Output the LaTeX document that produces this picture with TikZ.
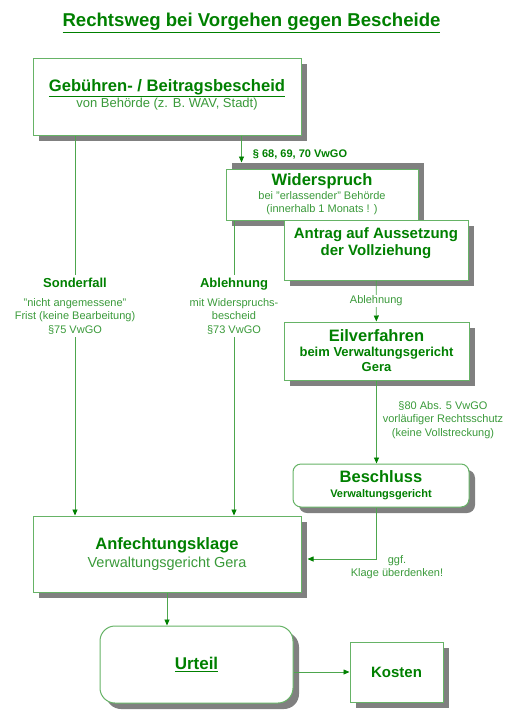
\documentclass[tikz,border=0pt]{standalone}
\usepackage{fontspec}
\setmainfont{Liberation Sans}
\usetikzlibrary{arrows.meta,shadows}
\definecolor{dkgreen}{HTML}{008000}
\definecolor{txtgreen}{HTML}{3A9A3A}
\definecolor{boxgreen}{HTML}{66B366}
\definecolor{lnkgreen}{HTML}{4DA64D}
\tikzset{
  box/.style={draw=boxgreen, fill=white, line width=1pt, align=center,
    inner sep=0pt, text=dkgreen,
    drop shadow={shadow xshift=6pt, shadow yshift=-6pt, fill=black!50, opacity=1}},
  link/.style={draw=lnkgreen, line width=0.8pt},
  arr/.style={link, -{Triangle[length=6pt,width=5pt,color=dkgreen]}},
  lbl/.style={text=txtgreen, align=center, font=\fontsize{11}{13.5}\selectfont},
}
\begin{document}
\begin{tikzpicture}[x=1pt,y=-1pt]
	\useasboundingbox (0,0) rectangle (520,721);
	% title
	\node (title) at (251.5,23) {\fontsize{18.6}{21}\selectfont\bfseries\color{dkgreen}\underline{Rechtsweg bei Vorgehen gegen Bescheide}};
	% boxes
	\node[box, minimum width=268pt, minimum height=77pt] (geb) at (167,96.5)
		{{\fontsize{16.6}{19}\selectfont\bfseries\underline{Gebühren- / Beitragsbescheid}}\\
		{\fontsize{13}{15}\selectfont\color{txtgreen}von Behörde (z. B. WAV, Stadt)}\\[-6pt]\mbox{}};
	\node[box, minimum width=192pt, minimum height=51pt,
		drop shadow={shadow xshift=6pt, shadow yshift=6pt, fill=black!50, opacity=1}] (wsp) at (322,194.5)
		{{\fontsize{16.5}{18}\selectfont\bfseries Widerspruch}\\[2pt]
		{\fontsize{11}{13}\selectfont\color{txtgreen}bei "erlassender" Behörde}\\[1pt]
		{\fontsize{11}{12}\selectfont\color{txtgreen}(innerhalb 1 Monats ! )}};
	\node[box, minimum width=184pt, minimum height=60pt, font=\fontsize{15}{17}\selectfont\bfseries] (atr) at (376,250)
		{Antrag auf Aussetzung\\der Vollziehung\\\mbox{}};
	\node[box, minimum width=185pt, minimum height=58pt] (eil) at (376.5,351)
		{{\fontsize{16.5}{18}\selectfont\bfseries Eilverfahren}\\[3pt]
		{\fontsize{13}{16}\selectfont\bfseries beim Verwaltungsgericht}\\[3pt]
		{\fontsize{13}{15}\selectfont\bfseries Gera}};
	\node[box, rounded corners=8pt, minimum width=176pt, minimum height=43pt] (bes) at (381,485.5)
		{{\fontsize{16.5}{18}\selectfont\bfseries Beschluss}\\[3pt]
		{\fontsize{11}{15}\selectfont\bfseries Verwaltungsgericht}};
	\node[box, minimum width=268pt, minimum height=76pt] (anf) at (167,554)
		{{\fontsize{16.5}{18}\selectfont\bfseries Anfechtungsklage}\\[3pt]
		{\fontsize{14.5}{18}\selectfont\color{txtgreen}Verwaltungsgericht Gera}};
	\node[box, rounded corners=15pt, minimum width=193pt, minimum height=77pt] (urt) at (196.5,664.5)
		{\fontsize{17}{20}\selectfont\bfseries\underline{Urteil}};
	\node[box, minimum width=93pt, minimum height=60pt] (kos) at (396.5,672)
		{\fontsize{15}{18}\selectfont\bfseries Kosten};
	% labels
	\node[lbl] (sonder) at (75,306)
		{{\fontsize{13}{15}\selectfont\bfseries\color{dkgreen}Sonderfall}\\[5pt]
		"nicht angemessene"\\Frist (keine Bearbeitung)\\§75 VwGO};
	\node[lbl] (ablehn) at (234,306)
		{{\fontsize{13}{15}\selectfont\bfseries\color{dkgreen}Ablehnung}\\[5pt]
		mit Widerspruchs-\\bescheid\\§73 VwGO};
	\node[lbl, text=dkgreen, font=\fontsize{11}{13}\selectfont\bfseries] (par68) at (300,155) {§ 68, 69, 70 VwGO};
	\node[lbl] (par80) at (443,420) {§80 Abs. 5 VwGO\\vorläufiger Rechtsschutz\\(keine Vollstreckung)};
	\node[lbl] (ggf) at (397,567) {ggf.\\Klage überdenken!};
	% connectors
	\draw[arr] ([xshift=16pt]wsp.north west |- geb.south) -- ([xshift=16pt,yshift=6pt]wsp.north west);
	\draw[link] (geb.south -| sonder) -- (sonder);
	\draw[arr] (sonder) -- (sonder |- anf.north);
	\draw[link] (wsp.south -| ablehn) -- (ablehn);
	\draw[arr] (ablehn) -- (ablehn |- anf.north);
	\draw[arr] (atr) -- node[lbl, fill=white, inner sep=1pt] (abl2) {Ablehnung} (eil);
	\draw[arr] (eil) -- (eil |- bes.north);
	\draw[arr] (bes.south -| eil) |- ([xshift=6pt,yshift=-5pt]anf.east);
	\draw[arr] (anf) -- (anf |- urt.north);
	\draw[arr] (kos.west -| urt.east) -- (kos.west);
\end{tikzpicture}
\end{document}
